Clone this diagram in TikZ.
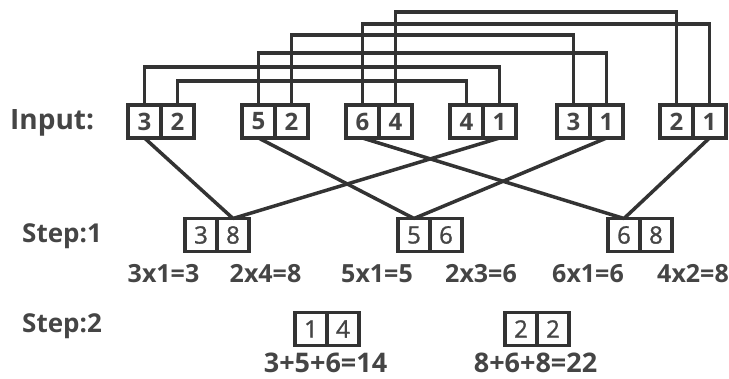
\documentclass[tikz,border=0pt]{standalone}
\usepackage{fontspec}
\setmainfont{Open Sans}
\newfontfamily\medfont[FakeBold=1.2]{Open Sans}
\usetikzlibrary{positioning}
\definecolor{ink}{HTML}{333333}
\definecolor{txt}{HTML}{454545}

\begin{document}
\begin{tikzpicture}[
x=1pt,y=-1pt,
cellin/.style={draw=ink,line width=3.6pt,outer sep=0pt,inner sep=0pt,minimum width=33pt,minimum height=33pt,text=txt,font=\fontsize{24}{24}\selectfont\bfseries},
cellout/.style={draw=ink,line width=3.4pt,outer sep=0pt,inner sep=0pt,minimum width=32pt,minimum height=33pt,text=txt,font=\fontsize{24}{24}\medfont},
head/.style={anchor=base west,inner sep=0pt,text=txt,font=\fontsize{28}{28}\selectfont\bfseries},
calc/.style={inner sep=0pt,text=txt,font=\fontsize{25}{25}\selectfont\bfseries},
link/.style={draw=ink,line width=3.5pt}
]
\useasboundingbox (0,0) rectangle (729,379);
\node[head] (input) at (10,130) {Input:};
\node[head,font=\fontsize{26}{26}\selectfont\bfseries] (step1) at (22,243) {Step:1};
\node[head,font=\fontsize{26}{26}\selectfont\bfseries] (step2) at (22,333) {Step:2};
\node[cellin] (p1a) at (144.5,121.5) {3};
\node[cellin,right=0pt of p1a] (p1b) {2};
\node[cellin] (p2a) at (258.5,121.5) {5};
\node[cellin,right=0pt of p2a] (p2b) {2};
\node[cellin] (p3a) at (362.5,121.5) {6};
\node[cellin,right=0pt of p3a] (p3b) {4};
\node[cellin] (p4a) at (466.5,121.5) {4};
\node[cellin,right=0pt of p4a] (p4b) {1};
\node[cellin] (p5a) at (573.5,121.5) {3};
\node[cellin,right=0pt of p5a] (p5b) {1};
\node[cellin] (p6a) at (676.5,121.5) {2};
\node[cellin,right=0pt of p6a] (p6b) {1};
\node[cellout] (s1a) at (201,235) {3};
\node[cellout,right=0pt of s1a] (s1b) {8};
\node[cellout] (s2a) at (414,235) {5};
\node[cellout,right=0pt of s2a] (s2b) {6};
\node[cellout] (s3a) at (624,235) {6};
\node[cellout,right=0pt of s3a] (s3b) {8};
\node[calc] (c1) at (163.5,273.5) {3x1=3};
\node[calc] (c2) at (265.5,273.5) {2x4=8};
\node[calc] (c3) at (377,273.5) {5x1=5};
\node[calc] (c4) at (481,273.5) {2x3=6};
\node[calc] (c5) at (588,273.5) {6x1=6};
\node[calc] (c6) at (693,273.5) {4x2=8};
\node[cellout] (t1a) at (311,329) {1};
\node[cellout,right=0pt of t1a] (t1b) {4};
\node[cellout] (t2a) at (521,329) {2};
\node[cellout,right=0pt of t2a] (t2b) {2};
\node[calc,font=\fontsize{27}{27}\selectfont\bfseries] (sum1) at (325.5,362.5) {3+5+6=14};
\node[calc,font=\fontsize{27}{27}\selectfont\bfseries] (sum2) at (535.5,362.5) {8+6+8=22};
\draw[link] (p1b.north) -- ++(0,-24) -| (p4a.north);
\draw[link] (p1a.north) -- ++(0,-38) -| (p4b.north);
\draw[link] (p2a.north) -- ++(0,-52) -| (p5b.north);
\draw[link] (p2b.north) -- ++(0,-70) -| (p5a.north);
\draw[link] (p3a.north) -- ++(0,-81) -| (p6b.north);
\draw[link] (p3b.north) -- ++(0,-93) -| (p6a.north);
\draw[link] (p1a.south) -- (s1b.north);
\draw[link] (p4b.south) -- (s1b.north);
\draw[link] (p2a.south) -- (s2a.north);
\draw[link] (p5b.south) -- (s2a.north);
\draw[link] (p3a.south) -- (s3a.north);
\draw[link] (p6b.south) -- (s3a.north);
\end{tikzpicture}
\end{document}
